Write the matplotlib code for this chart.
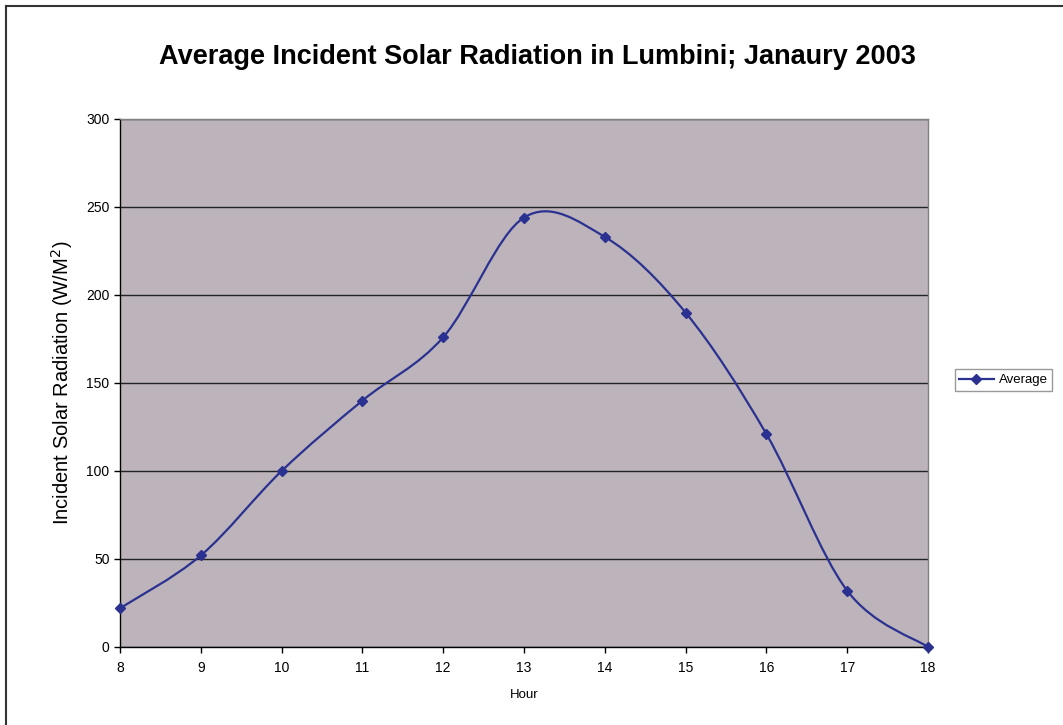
import matplotlib
matplotlib.use("Agg")
import matplotlib.pyplot as plt
from matplotlib.path import Path
from matplotlib.patches import PathPatch
from matplotlib.lines import Line2D
import numpy as np

plt.rcParams['font.family'] = ['Liberation Sans', 'DejaVu Sans']

hours = [8, 9, 10, 11, 12, 13, 14, 15, 16, 17, 18]
average = [22, 52, 100, 140, 176, 244, 233, 190, 121, 32, 0]
y_ticks = [0, 50, 100, 150, 200, 250, 300]

line_color = '#2b3190'

fig = plt.figure(figsize=(10.63, 7.25), dpi=100)
fig.patch.set_facecolor('white')
ax = fig.add_axes([120/1063, 1-647/725, (928-120)/1063, (647-119)/725])
ax.set_facecolor('#bcb4ba')

# smoothed line (Excel-style Bezier) built from the data points
xs = np.array(hours, dtype=float)
ys = np.array(average, dtype=float)
verts = [(xs[0], ys[0])]
codes = [Path.MOVETO]
n = len(xs)
for i in range(n - 1):
    p0 = np.array([xs[max(i-1, 0)], ys[max(i-1, 0)]])
    p1 = np.array([xs[i], ys[i]])
    p2 = np.array([xs[i+1], ys[i+1]])
    p3 = np.array([xs[min(i+2, n-1)], ys[min(i+2, n-1)]])
    c1 = p1 + (p2 - p0) / 6.0
    c2 = p2 - (p3 - p1) / 6.0
    verts += [tuple(c1), tuple(c2), tuple(p2)]
    codes += [Path.CURVE4] * 3
patch = PathPatch(Path(verts, codes), facecolor='none', edgecolor=line_color, lw=1.6, zorder=3, clip_on=False)
ax.add_patch(patch)
ax.plot(hours, average, linestyle='none', marker='D', markersize=5.5, color=line_color, zorder=4, clip_on=False)

ax.set_xlim(8, 18)
ax.set_ylim(0, 300)
ax.set_xticks(hours)
ax.set_yticks(y_ticks)
ax.tick_params(axis='both', labelsize=10, direction='out', length=4, width=1, color='black')
ax.tick_params(axis='x', pad=6)
ax.yaxis.grid(True, color='#222222', lw=1)
ax.set_axisbelow(True)
for s in ['top', 'right']:
    ax.spines[s].set_color('#808080')
    ax.spines[s].set_linewidth(1)
for s in ['left', 'bottom']:
    ax.spines[s].set_color('black')
    ax.spines[s].set_linewidth(1)

ax.set_xlabel('Hour', fontsize=9.5, labelpad=10)
ax.set_ylabel('Incident Solar Radiation (W/M$^2$)', fontsize=14.5, labelpad=8)

fig.text(537/1063, 1-57/725, 'Average Incident Solar Radiation in Lumbini; Janaury 2003',
         ha='center', va='center', fontsize=19.5, fontweight='bold')

handle = Line2D([], [], color=line_color, lw=1.6, marker='D', markersize=5)
leg = fig.legend([handle], ['Average'], loc='center left',
                 bbox_to_anchor=(948/1063, 1-380/725), fontsize=9.5,
                 frameon=True, fancybox=False, edgecolor='#808080',
                 handlelength=2.6, borderpad=0.35, handletextpad=0.4)
leg.get_frame().set_linewidth(1)

# figure frame (top and left edges)
fig.add_artist(Line2D([6/1063, 1], [1-6/725, 1-6/725], transform=fig.transFigure, color='#333333', lw=1.5))
fig.add_artist(Line2D([6/1063, 6/1063], [0, 1-6/725], transform=fig.transFigure, color='#333333', lw=1.5))

fig.savefig('out.png', dpi=100)
